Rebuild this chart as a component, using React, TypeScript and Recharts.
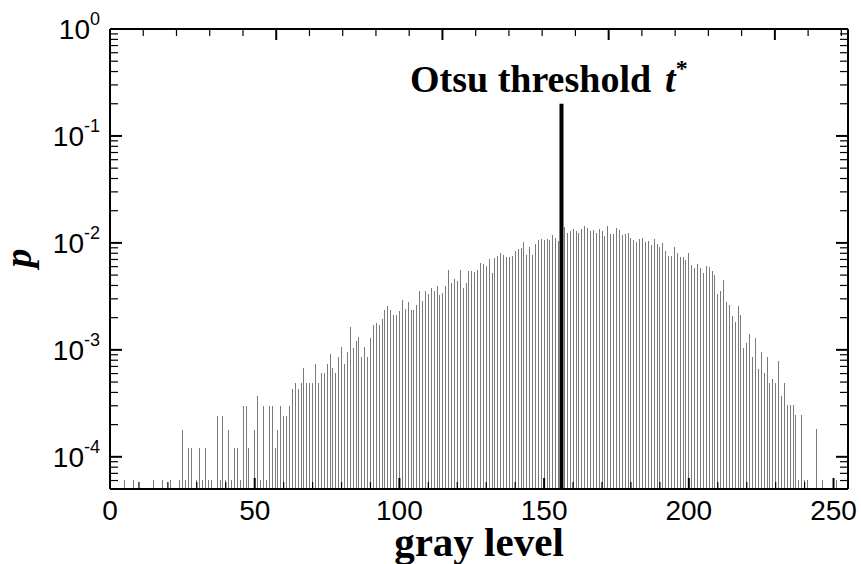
import React from 'react';
import { ComposedChart, Bar, XAxis, YAxis, ReferenceLine } from 'recharts';

// gray levels that have at least one pixel, and their probability p
const grayLevels = [
  5, 8, 15, 18, 21, 24, 25, 26, 27, 28,
  30, 31, 32, 33, 34, 35, 37, 38, 39, 40,
  41, 42, 43, 44, 45, 46, 47, 48, 50, 51,
  52, 53, 54, 55, 56, 57, 58, 59, 60, 61,
  62, 63, 64, 65, 66, 67, 68, 69, 70, 71,
  72, 73, 74, 75, 76, 77, 78, 79, 80, 81,
  82, 83, 84, 85, 86, 87, 88, 89, 90, 91,
  92, 93, 94, 95, 96, 97, 98, 99, 100, 101,
  102, 103, 104, 105, 106, 107, 108, 109, 110, 111,
  112, 113, 114, 115, 116, 117, 118, 119, 120, 121,
  122, 123, 124, 125, 126, 127, 128, 129, 130, 131,
  132, 133, 134, 135, 136, 137, 138, 139, 140, 141,
  142, 143, 144, 145, 146, 147, 148, 149, 150, 151,
  152, 153, 154, 155, 156, 157, 158, 159, 160, 161,
  162, 163, 164, 165, 166, 167, 168, 169, 170, 171,
  172, 173, 174, 175, 176, 177, 178, 179, 180, 181,
  182, 183, 184, 185, 186, 187, 188, 189, 190, 191,
  192, 193, 194, 195, 196, 197, 198, 199, 200, 201,
  202, 203, 204, 205, 206, 207, 208, 209, 210, 211,
  212, 213, 214, 215, 216, 217, 218, 219, 220, 221,
  222, 223, 224, 225, 226, 227, 228, 229, 230, 231,
  232, 233, 234, 235, 236, 237, 238, 239, 240, 241,
  244, 246, 251,
];

const probabilities = [
  6.1e-5, 6.1e-5, 6.1e-5, 6.1e-5, 6.1e-5, 6.1e-5, 1.8e-4, 6.1e-5, 1.2e-4, 1.2e-4,
  6.1e-5, 1.2e-4, 6.1e-5, 1.2e-4, 6.1e-5, 6.1e-5, 2.4e-4, 6.1e-5, 2.4e-4, 6.1e-5,
  1.8e-4, 6.1e-5, 1.2e-4, 1.2e-4, 6.1e-5, 3.0e-4, 3.0e-4, 1.2e-4, 1.8e-4, 3.7e-4,
  6.1e-5, 3.0e-4, 6.1e-5, 3.0e-4, 3.0e-4, 1.2e-4, 1.8e-4, 3.0e-4, 2.4e-4, 2.4e-4,
  3.0e-4, 4.3e-4, 4.9e-4, 4.3e-4, 4.9e-4, 6.7e-4, 4.9e-4, 4.9e-4, 4.9e-4, 7.3e-4,
  4.9e-4, 6.1e-4, 6.1e-4, 7.3e-4, 9.1e-4, 6.7e-4, 6.1e-4, 8.5e-4, 1.07e-3, 7.3e-4,
  9.6e-4, 1.63e-3, 1.04e-3, 1.2e-3, 1.33e-3, 8.6e-4, 1.07e-3, 8.6e-4, 1.28e-3, 1.71e-3,
  1.8e-3, 1.71e-3, 1.94e-3, 2.35e-3, 2.57e-3, 2.37e-3, 2.11e-3, 2.11e-3, 2.3e-3, 2.93e-3,
  2.42e-3, 2.79e-3, 2.37e-3, 2.37e-3, 2.64e-3, 3.56e-3, 2.87e-3, 3.56e-3, 3.34e-3, 3.8e-3,
  3.56e-3, 3.96e-3, 3.27e-3, 3.39e-3, 3.96e-3, 5.6e-3, 4.26e-3, 4.61e-3, 4.45e-3, 5.6e-3,
  3.8e-3, 4.2e-3, 5.47e-3, 5.47e-3, 5.36e-3, 5.6e-3, 6.55e-3, 6.37e-3, 6.1e-3, 7.08e-3,
  5.28e-3, 7.29e-3, 7.62e-3, 8.12e-3, 7.73e-3, 7.45e-3, 7.35e-3, 7.6e-3, 8.41e-3, 8.85e-3,
  9.04e-3, 1.02e-2, 7.75e-3, 9.24e-3, 7.73e-3, 9.72e-3, 1.07e-2, 1.09e-2, 1.07e-2, 1.09e-2,
  1.07e-2, 1.19e-2, 1.12e-2, 1.04e-2, 1.2e-2, 1.42e-2, 1.23e-2, 1.3e-2, 1.34e-2, 1.28e-2,
  1.23e-2, 1.34e-2, 1.45e-2, 1.39e-2, 1.29e-2, 1.32e-2, 1.25e-2, 1.34e-2, 1.28e-2, 1.15e-2,
  1.45e-2, 1.21e-2, 1.21e-2, 1.37e-2, 1.32e-2, 1.19e-2, 1.2e-2, 1.25e-2, 1.11e-2, 1.07e-2,
  1.01e-2, 1.08e-2, 1.11e-2, 1.03e-2, 1.04e-2, 9.58e-3, 1.08e-2, 9.8e-3, 9.24e-3, 1.0e-2,
  8.41e-3, 7.62e-3, 7.62e-3, 9.24e-3, 7.97e-3, 7.34e-3, 7.34e-3, 6.86e-3, 8.12e-3, 6.22e-3,
  5.88e-3, 6.37e-3, 5.88e-3, 5.21e-3, 6.1e-3, 6.0e-3, 5.51e-3, 5.02e-3, 3.34e-3, 3.56e-3,
  4.51e-3, 2.81e-3, 2.64e-3, 2.08e-3, 1.81e-3, 2.58e-3, 2.11e-3, 1.04e-3, 1.15e-3, 1.4e-3,
  8.5e-4, 1.29e-3, 6.65e-4, 9.6e-4, 6.05e-4, 8.5e-4, 4.9e-4, 5.3e-4, 4.9e-4, 7.8e-4,
  3.7e-4, 4.9e-4, 3.05e-4, 3.05e-4, 3.05e-4, 2.44e-4, 6.1e-5, 2.44e-4, 6.1e-5, 6.1e-5,
  1.83e-4, 6.1e-5, 6.1e-5,
];

const otsuThreshold = 156;
const thresholdTop = 0.2;

const xDomain = [0, 255];
const xMajorTicks = [0, 50, 100, 150, 200, 250];
const xTicks = [
  0, 10, 20, 30, 40, 50, 60, 70, 80, 90, 100, 110, 120, 130, 140, 150,
  160, 170, 180, 190, 200, 210, 220, 230, 240, 250,
];

const yDomain = [5e-5, 1];
const yMajorTicks = [1e-4, 1e-3, 1e-2, 1e-1, 1];
const yTickExponents = ['-4', '-3', '-2', '-1', '0'];
const yTicks = [
  6e-5, 7e-5, 8e-5, 9e-5, 1e-4,
  2e-4, 3e-4, 4e-4, 5e-4, 6e-4, 7e-4, 8e-4, 9e-4, 1e-3,
  2e-3, 3e-3, 4e-3, 5e-3, 6e-3, 7e-3, 8e-3, 9e-3, 1e-2,
  2e-2, 3e-2, 4e-2, 5e-2, 6e-2, 7e-2, 8e-2, 9e-2, 1e-1,
  0.2, 0.3, 0.4, 0.5, 0.6, 0.7, 0.8, 0.9, 1,
];

const data = grayLevels.map((level, i) => ({ level, p: probabilities[i] }));

const SANS = '"Liberation Sans", Arial, Helvetica, sans-serif';
const SERIF = '"Liberation Serif", "Times New Roman", Times, serif';
const frame = { stroke: '#000', strokeWidth: 2 };

const BottomTick = (props: any) => {
  const { x, y, payload } = props;
  const major = xMajorTicks.includes(payload.value);
  return (
    <g>
      <line x1={x} x2={x} y1={y} y2={y - (major ? 11 : 7)} stroke="#000" strokeWidth={major ? 2 : 1.2} />
      {major && (
        <text x={x} y={y + 31} textAnchor="middle" fontFamily={SANS} fontSize={28} fill="#000">
          {payload.value}
        </text>
      )}
    </g>
  );
};

const TopTick = (props: any) => {
  const { x, y, payload } = props;
  const major = xMajorTicks.includes(payload.value);
  return <line x1={x} x2={x} y1={y} y2={y + (major ? 11 : 7)} stroke="#000" strokeWidth={major ? 2 : 1.2} />;
};

const LeftTick = (props: any) => {
  const { x, y, payload } = props;
  const i = yMajorTicks.indexOf(payload.value);
  const major = i >= 0;
  return (
    <g>
      <line x1={x} x2={x + (major ? 12 : 8)} y1={y} y2={y} stroke="#000" strokeWidth={major ? 2 : 1.2} />
      {major && (
        <text x={x - 10} y={y + 10} textAnchor="end" fontFamily={SANS} fontSize={28} fill="#000">
          10
          <tspan dy={-14} fontSize={18}>{yTickExponents[i]}</tspan>
        </text>
      )}
    </g>
  );
};

const RightTick = (props: any) => {
  const { x, y, payload } = props;
  const major = yMajorTicks.includes(payload.value);
  return <line x1={x} x2={x - (major ? 12 : 8)} y1={y} y2={y} stroke="#000" strokeWidth={major ? 2 : 1.2} />;
};

export default function App() {
  return (
    <div style={{ position: 'absolute', left: 0, top: 0, background: '#fff' }}>
      <ComposedChart width={861} height={564} data={data} margin={{ top: 0, right: 0, bottom: 0, left: 0 }}>
        <XAxis
          dataKey="level"
          type="number"
          domain={xDomain}
          ticks={xTicks}
          interval={0}
          allowDataOverflow
          height={75}
          tickSize={0}
          tickMargin={0}
          tickLine={false}
          axisLine={frame}
          tick={<BottomTick />}
        />
        <XAxis
          xAxisId="top"
          orientation="top"
          type="number"
          domain={xDomain}
          ticks={xTicks}
          interval={0}
          allowDataOverflow
          height={29}
          tickSize={0}
          tickMargin={0}
          tickLine={false}
          axisLine={frame}
          tick={<TopTick />}
        />
        <YAxis
          type="number"
          scale="log"
          domain={yDomain}
          ticks={yTicks}
          interval={0}
          allowDataOverflow
          width={110}
          tickSize={0}
          tickMargin={0}
          tickLine={false}
          axisLine={frame}
          tick={<LeftTick />}
        />
        <YAxis
          yAxisId="right"
          orientation="right"
          type="number"
          scale="log"
          domain={yDomain}
          ticks={yTicks}
          interval={0}
          allowDataOverflow
          width={13}
          tickSize={0}
          tickMargin={0}
          tickLine={false}
          axisLine={frame}
          tick={<RightTick />}
        />
        <Bar dataKey="p" barSize={1} fill="#7a7a7a" shapeRendering="crispEdges" isAnimationActive={false} />
        <ReferenceLine
          segment={[{ x: otsuThreshold, y: yDomain[0] }, { x: otsuThreshold, y: thresholdTop }]}
          stroke="#000"
          strokeWidth={4}
          ifOverflow="visible"
        />
        <text x={410} y={92} fontFamily={SERIF} fontWeight="bold" fontSize={38} fill="#000">
          Otsu threshold
          <tspan dx={14} fontStyle="italic">t</tspan>
          <tspan dy={-16} fontSize={24}>*</tspan>
        </text>
        <text x={479} y={556} textAnchor="middle" fontFamily={SERIF} fontWeight="bold" fontSize={41} fill="#000">
          gray level
        </text>
        <text
          transform="translate(31, 258) rotate(-90)"
          textAnchor="middle"
          fontFamily={SERIF}
          fontWeight="bold"
          fontStyle="italic"
          fontSize={38}
          fill="#000"
        >
          p
        </text>
      </ComposedChart>
    </div>
  );
}
